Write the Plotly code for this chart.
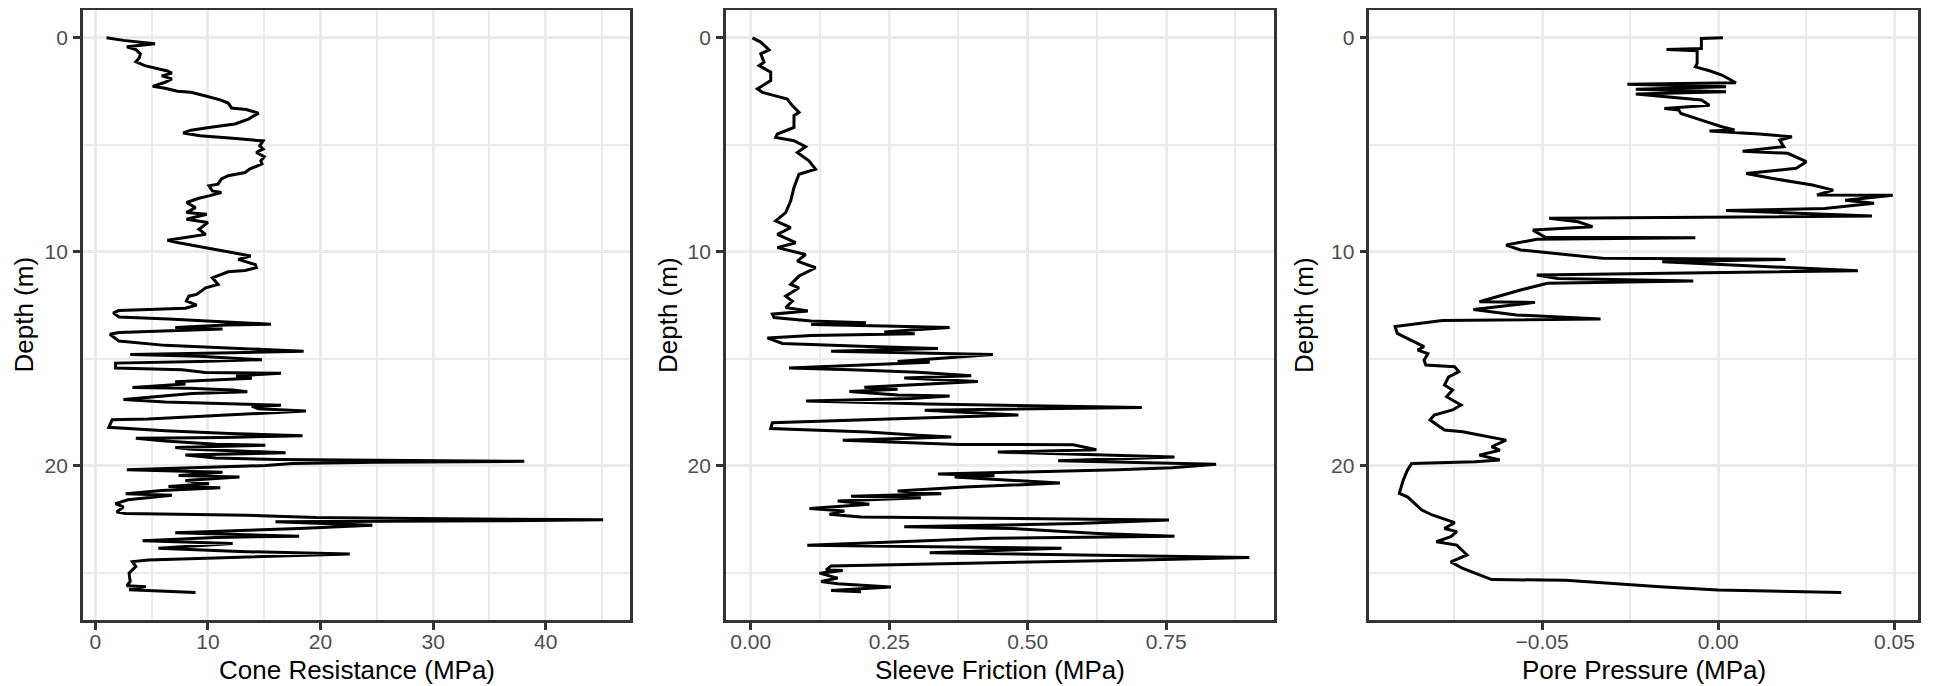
import plotly.graph_objects as go

# ---------------- data ----------------
depth_qc = [0.00, 0.12, 0.28, 0.42, 0.55, 0.75, 0.95, 1.12, 1.30, 1.42, 1.55, 1.65, 1.78, 1.92, 2.08, 2.27, 2.36,
            2.50, 2.55, 2.72, 2.90, 3.05, 3.28, 3.35, 3.52, 3.80, 4.03, 4.19, 4.32, 4.45, 4.58, 4.70, 4.82, 5.05,
            5.20, 5.36, 5.56, 5.75, 5.90, 6.14, 6.30, 6.45, 6.60, 6.84, 6.92, 7.16, 7.23, 7.39, 7.50, 7.70, 7.94,
            8.17, 8.25, 8.48, 8.64, 8.95, 9.19, 9.34, 9.47, 9.58, 9.81, 10.05, 10.20, 10.36, 10.60, 10.75, 10.88,
            10.94, 11.22, 11.53, 11.69, 12.00, 12.08, 12.30, 12.50, 12.64, 12.70, 12.75, 12.86, 13.05, 13.15,
            13.30, 13.39, 13.43, 13.54, 13.62, 13.70, 13.78, 13.86, 14.18, 14.38, 14.49, 14.57, 14.65, 14.73,
            14.81, 14.89, 15.05, 15.13, 15.21, 15.44, 15.52, 15.65, 15.68, 15.81, 15.92, 16.08, 16.19, 16.35,
            16.39, 16.47, 16.55, 16.63, 16.91, 17.03, 17.10, 17.18, 17.23, 17.34, 17.45, 17.66, 17.71, 17.82,
            17.86, 18.21, 18.37, 18.50, 18.60, 18.69, 18.72, 18.85, 19.00, 19.05, 19.16, 19.24, 19.32, 19.40,
            19.51, 19.64, 19.72, 19.76, 19.80, 19.85, 19.90, 20.00, 20.19, 20.31, 20.46, 20.54, 20.70, 20.85,
            20.98, 21.04, 21.16, 21.32, 21.39, 21.60, 21.78, 21.93, 22.17, 22.24, 22.32, 22.43, 22.48, 22.53,
            22.58, 22.63, 22.79, 22.94, 23.00, 23.14, 23.30, 23.36, 23.51, 23.64, 23.87, 24.02, 24.13, 24.26,
            24.41, 24.49, 24.72, 25.03, 25.42, 25.62, 25.66, 25.80, 25.88, 25.93]
qc = [1.0, 2.5, 5.3, 2.8, 3.6, 4.0, 3.9, 3.6, 4.4, 5.3, 6.4, 6.8, 5.9, 6.8, 6.2, 5.1, 6.2,
      7.3, 8.5, 9.8, 11.1, 11.8, 12.1, 13.4, 14.5, 13.6, 12.4, 10.1, 8.5, 7.8, 9.3, 12.2, 14.9, 14.6,
      14.9, 14.3, 15.0, 14.7, 14.8, 13.7, 13.3, 11.8, 11.2, 10.9, 10.1, 10.4, 11.2, 10.1, 9.2, 8.1, 8.9,
      8.1, 9.9, 8.1, 10.0, 9.2, 9.8, 8.0, 6.4, 7.4, 9.8, 12.1, 13.8, 12.7, 14.2, 14.3, 13.3,
      11.8, 10.4, 10.9, 9.8, 9.0, 8.3, 8.1, 9.0, 8.0, 4.7, 2.1, 1.6, 2.1, 6.5,
      11.6, 15.6, 11.6, 7.1, 11.3, 6.0, 2.1, 1.3, 2.1, 6.2, 10.7, 15.1, 18.5, 12.2,
      3.1, 9.2, 14.8, 9.2, 1.8, 1.8, 7.7, 9.8, 16.5, 12.5, 13.9, 7.1, 8.0, 3.3,
      8.3, 12.2, 13.5, 8.6, 2.5, 6.2, 11.3, 16.5, 13.9, 14.5, 18.7, 11.3, 8.5, 4.7,
      1.5, 1.2, 6.2, 11.9, 18.4, 11.3, 3.6, 6.2, 10.7, 15.1, 7.1, 8.6, 12.8, 16.9,
      8.0, 10.7, 16.3, 27.0, 38.1, 25.0, 17.5, 15.1, 2.8, 11.3, 7.4, 12.8, 8.0, 10.1,
      6.5, 11.1, 5.9, 2.7, 6.8, 2.9, 1.8, 2.5, 1.9, 2.7, 13.4, 19.6, 28.5, 45.1,
      36.0, 16.0, 24.6, 18.1, 15.1, 7.1, 18.1, 10.7, 4.2, 12.2, 5.6, 12.8, 22.6, 14.2,
      4.7, 3.3, 3.6, 3.0, 3.1, 2.8, 4.5, 3.0, 6.2, 8.9]

depth_fs = [0.00, 0.20, 0.56, 0.75, 1.14, 1.30, 1.61, 2.00, 2.39, 2.55, 2.86, 3.17, 3.48, 3.64, 4.19, 4.50,
            4.66, 4.81, 5.09, 5.36, 5.75, 6.14, 6.38, 7.00, 7.63, 8.17, 8.56, 8.88, 9.19, 9.58, 9.81, 10.13,
            10.44, 10.75, 11.14, 11.53, 11.69, 12.08, 12.31, 12.45, 12.61, 12.77, 12.92, 13.08, 13.24, 13.32,
            13.40, 13.48, 13.55, 13.66, 13.76, 13.84, 13.92, 14.03, 14.29, 14.42, 14.53, 14.65, 14.73, 14.81,
            14.97, 15.13, 15.17, 15.28, 15.44, 15.52, 15.64, 15.80, 15.91, 16.07, 16.34, 16.43, 16.54, 16.70,
            16.75, 16.86, 16.98, 17.12, 17.28, 17.41, 17.64, 17.80, 18.00, 18.27, 18.43, 18.58, 18.66, 18.82,
            19.01, 19.03, 19.26, 19.37, 19.53, 19.60, 19.77, 19.94, 20.10, 20.20, 20.39, 20.46, 20.54, 20.82,
            21.00, 21.19, 21.32, 21.44, 21.50, 21.66, 21.81, 22.01, 22.12, 22.28, 22.40, 22.45, 22.55, 22.71,
            22.86, 22.94, 23.17, 23.30, 23.40, 23.72, 23.87, 24.07, 24.30, 24.41, 24.69, 24.88, 24.91, 25.03,
            25.26, 25.42, 25.53, 25.68, 25.84, 25.90]
fs = [0.003, 0.018, 0.033, 0.018, 0.024, 0.015, 0.036, 0.036, 0.012, 0.021, 0.066, 0.075, 0.087, 0.078, 0.078, 0.048,
      0.045, 0.078, 0.099, 0.084, 0.105, 0.117, 0.087, 0.078, 0.072, 0.063, 0.045, 0.072, 0.048, 0.081, 0.048, 0.099,
      0.084, 0.117, 0.087, 0.072, 0.087, 0.063, 0.075, 0.070, 0.063, 0.103, 0.039, 0.042, 0.109, 0.208,
      0.109, 0.241, 0.359, 0.290, 0.241, 0.296, 0.109, 0.030, 0.057, 0.199, 0.338, 0.145, 0.290, 0.437,
      0.350, 0.265, 0.323, 0.229, 0.069, 0.181, 0.302, 0.398, 0.277, 0.410, 0.205, 0.265, 0.178, 0.265,
      0.359, 0.290, 0.100, 0.320, 0.706, 0.314, 0.483, 0.277, 0.039, 0.036, 0.211, 0.302, 0.362, 0.166,
      0.374, 0.582, 0.624, 0.446, 0.663, 0.765, 0.555, 0.840, 0.760, 0.663, 0.338, 0.440, 0.368, 0.558,
      0.386, 0.265, 0.344, 0.181, 0.307, 0.157, 0.214, 0.106, 0.169, 0.142, 0.199, 0.350, 0.755, 0.590,
      0.277, 0.470, 0.627, 0.765, 0.434, 0.102, 0.561, 0.323, 0.900, 0.706, 0.145, 0.136, 0.166, 0.124,
      0.157, 0.127, 0.157, 0.253, 0.145, 0.199]

depth_u2 = [0.00, 0.03, 0.50, 0.55, 0.61, 1.20, 1.36, 1.54, 1.74, 2.10, 2.17, 2.29, 2.41, 2.52, 2.63, 2.91, 3.15,
            3.30, 3.38, 3.54, 3.85, 4.16, 4.31, 4.36, 4.50, 4.63, 4.78, 5.09, 5.30, 5.40, 5.79, 6.10, 6.34, 6.57,
            6.88, 7.12, 7.35, 7.36, 7.59, 7.74, 7.98, 8.08, 8.33, 8.44, 8.60, 8.83, 8.99, 9.33, 9.35, 9.42, 9.69,
            9.92, 10.31, 10.36, 10.47, 10.83, 10.89, 11.09, 11.25, 11.37, 11.48, 11.79, 12.02, 12.34, 12.37,
            12.70, 12.96, 13.15, 13.22, 13.50, 13.82, 14.20, 14.44, 14.60, 14.76, 15.07, 15.30, 15.38, 15.61,
            15.85, 16.23, 16.47, 16.78, 17.17, 17.40, 17.64, 17.87, 18.34, 18.42, 18.57, 18.81, 19.12, 19.28,
            19.51, 19.74, 19.82, 19.90, 20.21, 20.68, 21.30, 21.46, 22.08, 22.31, 22.47, 22.67, 22.94, 23.09,
            23.32, 23.56, 23.72, 24.18, 24.50, 24.81, 25.33, 25.36, 25.67, 25.82, 25.93]
u2 = [0.0013, -0.0048, -0.0048, -0.0147, -0.0060, -0.0060, -0.0065, -0.0025, 0.0010, 0.0050, -0.0258, 0.0022,
      -0.0234, 0.0022, -0.0234, -0.0048, -0.0025, -0.0153, -0.0112, -0.0106, -0.0048, 0.0010, 0.0046, -0.0025,
      0.0116, 0.0209, 0.0174, 0.0186, 0.0069, 0.0197, 0.0250, 0.0221, 0.0079, 0.0151, 0.0267, 0.0326, 0.0280,
      0.0495, 0.0360, 0.0442, 0.0302, 0.0022, 0.0436, -0.0480, -0.0398, -0.0357, -0.0526, -0.0491, -0.0065,
      -0.0515, -0.0602, -0.0561, -0.0328, 0.0191, -0.0159, 0.0302, 0.0396, -0.0515, -0.0456, -0.0071, -0.0485,
      -0.0561, -0.0608, -0.0678, -0.0520, -0.0695, -0.0573, -0.0334, -0.0783, -0.0917, -0.0911, -0.0865,
      -0.0835, -0.0853, -0.0824, -0.0835, -0.0830, -0.0748, -0.0736, -0.0765, -0.0777, -0.0754, -0.0771,
      -0.0730, -0.0754, -0.0806, -0.0818, -0.0777, -0.0725, -0.0678, -0.0602, -0.0643, -0.0620, -0.0678,
      -0.0620, -0.0690, -0.0870, -0.0882, -0.0894, -0.0905, -0.0882, -0.0841, -0.0812, -0.0783, -0.0748,
      -0.0777, -0.0742, -0.0759, -0.0800, -0.0742, -0.0713, -0.0759, -0.0725, -0.0643, -0.0433, -0.0165,
      -0.0001, 0.0349]

x_titles = ["Cone Resistance (MPa)", "Sleeve Friction (MPa)", "Pore Pressure (MPa)"]
y_title = "Depth (m)"

# ---------------- layout ----------------
# the page body has an 8px margin, so the figure is drawn 8px smaller and every
# pixel position is measured from the page corner minus that offset
OFF = 8
W, H = 1935 - OFF, 686 - OFF
panels_px = [(82.9, 630.2), (725.9, 1274.0), (1369.4, 1918.1)]
top_px, bot_px = 10, 620
x_ranges = [[-1.10, 47.5], [-0.0449, 0.9446], [-0.0990, 0.0567]]
x_dticks = [(10, 5, 0, None), (0.25, 0.125, 0, ".2f"), (0.05, 0.025, 0, ".2f")]
y_range = [27.22, -1.30]
ytitle_x = [23.5, 668.0, 1304.0]
xtitle_y = 670
ytitle_y = 315

FONT = "Liberation Sans, Arial, Helvetica, sans-serif"
GRID = "#EBEBEB"
AX = "#333333"
TICKTXT = "#4D4D4D"


def px_x(v):
    return (v - OFF) / W


def px_y(v):
    return 1 - (v - OFF) / H


fig = go.Figure()
series = [(depth_qc, qc), (depth_fs, fs), (depth_u2, u2)]
for i, (d, v) in enumerate(series):
    sfx = "" if i == 0 else str(i + 1)
    fig.add_trace(go.Scatter(x=v, y=d, mode="lines", line=dict(color="black", width=3),
                             xaxis="x" + sfx, yaxis="y" + sfx, showlegend=False, hoverinfo="skip"))

    dt, mdt, t0, fmt = x_dticks[i]
    xa = dict(domain=[px_x(panels_px[i][0]), px_x(panels_px[i][1])], range=x_ranges[i], anchor="y" + sfx,
              dtick=dt, tick0=t0, tickformat=fmt, showgrid=True, gridcolor=GRID, gridwidth=3,
              minor=dict(dtick=mdt, tick0=t0, showgrid=True, gridcolor=GRID, gridwidth=1.6, ticks=""),
              zeroline=False, showline=True, mirror=True, linecolor=AX, linewidth=2.5,
              ticks="outside", ticklen=7, tickwidth=2.5, tickcolor=AX, ticklabelstandoff=-6,
              tickfont=dict(family=FONT, size=21, color=TICKTXT))
    ya = dict(domain=[px_y(bot_px), px_y(top_px)], range=y_range, anchor="x" + sfx,
              dtick=10, tick0=0, showgrid=True, gridcolor=GRID, gridwidth=3,
              minor=dict(dtick=5, tick0=0, showgrid=True, gridcolor=GRID, gridwidth=1.6, ticks=""),
              zeroline=False, showline=True, mirror=True, linecolor=AX, linewidth=2.5,
              ticks="outside", ticklen=7, tickwidth=2.5, tickcolor=AX, ticklabelstandoff=1,
              tickfont=dict(family=FONT, size=21, color=TICKTXT))
    fig.update_layout(**{"xaxis" + sfx: xa, "yaxis" + sfx: ya})

    fig.add_annotation(x=px_x((panels_px[i][0] + panels_px[i][1]) / 2), y=px_y(xtitle_y),
                       xref="paper", yref="paper",
                       text=x_titles[i], showarrow=False, xanchor="center", yanchor="middle",
                       font=dict(family=FONT, size=26, color="black"))
    fig.add_annotation(x=px_x(ytitle_x[i]), y=px_y(ytitle_y), xref="paper", yref="paper",
                       text=y_title, showarrow=False, textangle=-90, xanchor="center", yanchor="middle",
                       font=dict(family=FONT, size=26, color="black"))

fig.update_layout(width=W, height=H, margin=dict(l=0, r=0, t=0, b=0),
                  paper_bgcolor="white", plot_bgcolor="white")

fig.write_html("out.html")
